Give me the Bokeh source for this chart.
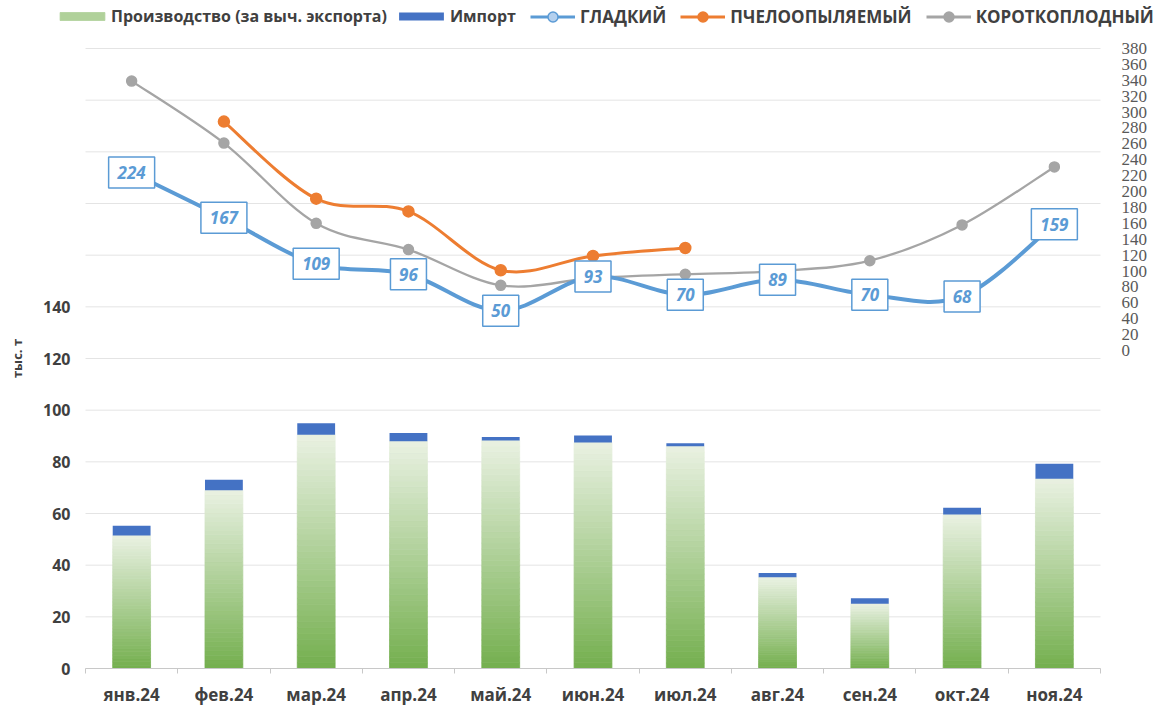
import numpy as np
from bokeh.plotting import figure
from bokeh.models import (Range1d, LinearAxis, FixedTicker, Legend, LegendItem, Label)
from bokeh.core.properties import value
from bokeh.embed import file_html
from bokeh.resources import INLINE

months = ["янв.24", "фев.24", "мар.24", "апр.24", "май.24", "июн.24",
          "июл.24", "авг.24", "сен.24", "окт.24", "ноя.24"]
production = [51.5, 69.0, 90.5, 88.0, 88.3, 87.5, 86.0, 35.3, 25.1, 59.6, 73.5]
imports = [3.8, 4.1, 4.4, 3.2, 1.3, 2.7, 1.2, 1.7, 2.1, 2.6, 5.8]
gladkiy = [224, 167, 109, 96, 50, 93, 70, 89, 70, 68, 159]
pchel = [np.nan, 288, 191, 175, 101, 119, 129, np.nan, np.nan, np.nan, np.nan]
korotk = [339, 261, 160, 127, 82, 91, 96, 100, 113, 158, 231]
left_ticks = [0, 20, 40, 60, 80, 100, 120, 140]
grid_ticks = list(range(0, 241, 20))
right_ticks = list(range(0, 381, 20))
LEFT_MAX = 240
RIGHT_MAX = 380

FONT = "Open Sans"
TXT = "#404040"

# layout (pixels inside the figure; the frame covers the whole figure)
W, H = 1163, 709
FL, FT = 85, 48              # left edge / top of the category area
PLOT_W = 1015                # width of the category area
ZERO_PX = 668                # y pixel of left-axis 0
RZERO_PX = 350               # y pixel of right-axis 0

n = len(months)
x = np.arange(n)
ppx = PLOT_W / n
x_start = -0.5 - FL / ppx
x_end = x_start + W / ppx
ppl = (ZERO_PX - FT) / LEFT_MAX
y_start = -(H - ZERO_PX) / ppl
y_end = LEFT_MAX + FT / ppl
ppr = (RZERO_PX - FT) / RIGHT_MAX
r_start = -(H - RZERO_PX) / ppr
r_end = RIGHT_MAX + FT / ppr

p = figure(width=W, height=H, output_backend="svg", toolbar_location=None,
           x_range=Range1d(x_start, x_end), y_range=Range1d(y_start, y_end),
           min_border=0, min_border_left=0, min_border_right=0,
           min_border_top=0, min_border_bottom=0)
p.extra_y_ranges = {"right": Range1d(r_start, r_end)}
p.outline_line_color = None
p.background_fill_color = "white"
p.border_fill_color = "white"
p.xgrid.grid_line_color = None
p.ygrid.grid_line_color = None

# grid lines limited to the category area
p.segment(x0=-0.5, x1=n - 0.5, y0=grid_ticks, y1=grid_ticks,
          line_color="#e4e4e4", line_width=1)

# x axis (fixed at 0)
xa = p.xaxis[0]
xa.fixed_location = 0
xa.bounds = (-0.5, n - 0.5)
xa.ticker = FixedTicker(ticks=list(x), minor_ticks=list(np.arange(-0.5, n, 1.0)))
xa.major_label_overrides = {int(i): m for i, m in zip(x, months)}
xa.major_tick_line_color = None
xa.major_tick_out = 0
xa.major_tick_in = 0
xa.minor_tick_line_color = "#c8c8c8"
xa.minor_tick_out = 5
xa.minor_tick_in = 0
xa.axis_line_color = "#c8c8c8"
xa.major_label_text_font = FONT
xa.major_label_text_font_style = "bold"
xa.major_label_text_font_size = "17px"
xa.major_label_text_color = TXT
xa.major_label_standoff = 9

# left axis (fixed at the left edge of the category area)
ya = p.yaxis[0]
ya.fixed_location = -0.5
ya.bounds = (0, LEFT_MAX)
ya.ticker = FixedTicker(ticks=left_ticks)
ya.axis_line_color = None
ya.major_tick_line_color = None
ya.major_tick_out = 0
ya.minor_tick_line_color = None
ya.major_label_text_font = FONT
ya.major_label_text_font_style = "bold"
ya.major_label_text_font_size = "16px"
ya.major_label_text_color = TXT
ya.major_label_standoff = 15

p.add_layout(Label(x=16, y=H - 358, x_units="screen", y_units="screen",
                   text="тыс. т", angle=np.pi / 2, text_align="center",
                   text_baseline="middle", text_font=FONT,
                   text_font_style="bold", text_font_size="13px",
                   text_color=TXT))

# right axis (fixed at the right edge of the category area)
ra = LinearAxis(y_range_name="right", ticker=FixedTicker(ticks=right_ticks),
                fixed_location=n - 0.5)
ra.axis_line_color = None
ra.major_tick_line_color = None
ra.major_tick_out = 0
ra.minor_tick_line_color = None
ra.major_label_text_font = "Liberation Sans Narrow"
ra.major_label_text_font_size = "17px"
ra.major_label_text_color = "#595959"
ra.major_label_standoff = 21
p.add_layout(ra, "right")

# gradient production bars
N = 40
bw = 0.41
c_bot = np.array([116, 175, 78])
c_top = np.array([233, 241, 226])
L, R, B, T, C = [], [], [], [], []
for i, v in enumerate(production):
    for k in range(N):
        f = (k + 0.5) / N
        col = c_bot + (c_top - c_bot) * f
        L.append(x[i] - bw / 2)
        R.append(x[i] + bw / 2)
        B.append(v * k / N)
        T.append(v * (k + 1) / N)
        C.append("#%02x%02x%02x" % tuple(int(round(c)) for c in col))
prod_r = p.quad(left=L, right=R, bottom=B, top=T, fill_color=C, line_color=C,
                line_width=0.8)

tops = [a + b for a, b in zip(production, imports)]
imp_r = p.vbar(x=x, width=bw, bottom=production, top=tops,
               fill_color="#4472C4", line_color=None)


def smooth(xs, ys):
    pts = [(a, b) for a, b in zip(xs, ys) if not np.isnan(b)]
    m = len(pts)
    out = {k: [] for k in ["x0", "y0", "x1", "y1", "cx0", "cy0", "cx1", "cy1"]}
    for i in range(m - 1):
        p0 = np.array(pts[i - 1] if i > 0 else pts[i], float)
        p1 = np.array(pts[i], float)
        p2 = np.array(pts[i + 1], float)
        p3 = np.array(pts[i + 2] if i + 2 < m else pts[i + 1], float)
        c1 = p1 + (p2 - p0) / 6.0
        c2 = p2 - (p3 - p1) / 6.0
        out["x0"].append(p1[0]); out["y0"].append(p1[1])
        out["x1"].append(p2[0]); out["y1"].append(p2[1])
        out["cx0"].append(c1[0]); out["cy0"].append(c1[1])
        out["cx1"].append(c2[0]); out["cy1"].append(c2[1])
    return out


series = [
    ("КОРОТКОПЛОДНЫЙ", korotk, "#A5A5A5", 2.3, 10, "#A5A5A5"),
    ("ПЧЕЛООПЫЛЯЕМЫЙ", pchel, "#ED7D31", 3.0, 11, "#ED7D31"),
    ("ГЛАДКИЙ", gladkiy, "#5B9BD5", 4.0, 9, "#B4D0EE"),
]
legend_lines = {}
for name, ys, col, lw, ms, mfill in series:
    s = smooth(x, ys)
    p.bezier(y_range_name="right", line_color=col, line_width=lw,
             line_cap="round", **s)
    ln = p.line(x=x, y=ys, line_color=col, line_width=3, y_range_name="right",
                visible=False)
    sc = p.scatter(x=x, y=ys, size=ms, fill_color=mfill, line_color=col,
                   line_width=1.5, y_range_name="right")
    legend_lines[name] = [ln, sc]

# value labels for ГЛАДКИЙ
wpx = [len(str(v)) * 10 + 16 for v in gladkiy]
p.rect(x=x, y=gladkiy, width=wpx, height=31, width_units="screen",
       height_units="screen", y_range_name="right", fill_color="white",
       line_color="#5B9BD5", line_width=1.5)
p.text(x=x, y=gladkiy, text=[str(v) for v in gladkiy], y_range_name="right",
       text_align="center", text_baseline="middle", text_font=value(FONT),
       text_font_style="bold italic", text_font_size="17px", text_color="#5B9BD5")

common = dict(orientation="horizontal", padding=0, margin=0,
              border_line_color=None, background_fill_alpha=0,
              label_text_font=FONT, label_text_font_style="bold",
              label_text_color=TXT, inactive_fill_alpha=0)
legend1 = Legend(items=[
    LegendItem(label="Производство (за выч. экспорта)", renderers=[prod_r], index=20),
    LegendItem(label="Импорт", renderers=[imp_r]),
], location=(54, H - 27), glyph_width=56, glyph_height=10, label_standoff=1,
    spacing=6, label_text_font_size="16px", **common)
legend2 = Legend(items=[
    LegendItem(label="ГЛАДКИЙ", renderers=legend_lines["ГЛАДКИЙ"]),
    LegendItem(label="ПЧЕЛООПЫЛЯЕМЫЙ", renderers=legend_lines["ПЧЕЛООПЫЛЯЕМЫЙ"]),
    LegendItem(label="КОРОТКОПЛОДНЫЙ", renderers=legend_lines["КОРОТКОПЛОДНЫЙ"]),
], location=(530, H - 29), glyph_width=45, glyph_height=25, label_standoff=5,
    spacing=14, label_text_font_size="17px", **common)
p.add_layout(legend1, "center")
p.add_layout(legend2, "center")

open("out.html", "w").write(file_html(p, INLINE))
